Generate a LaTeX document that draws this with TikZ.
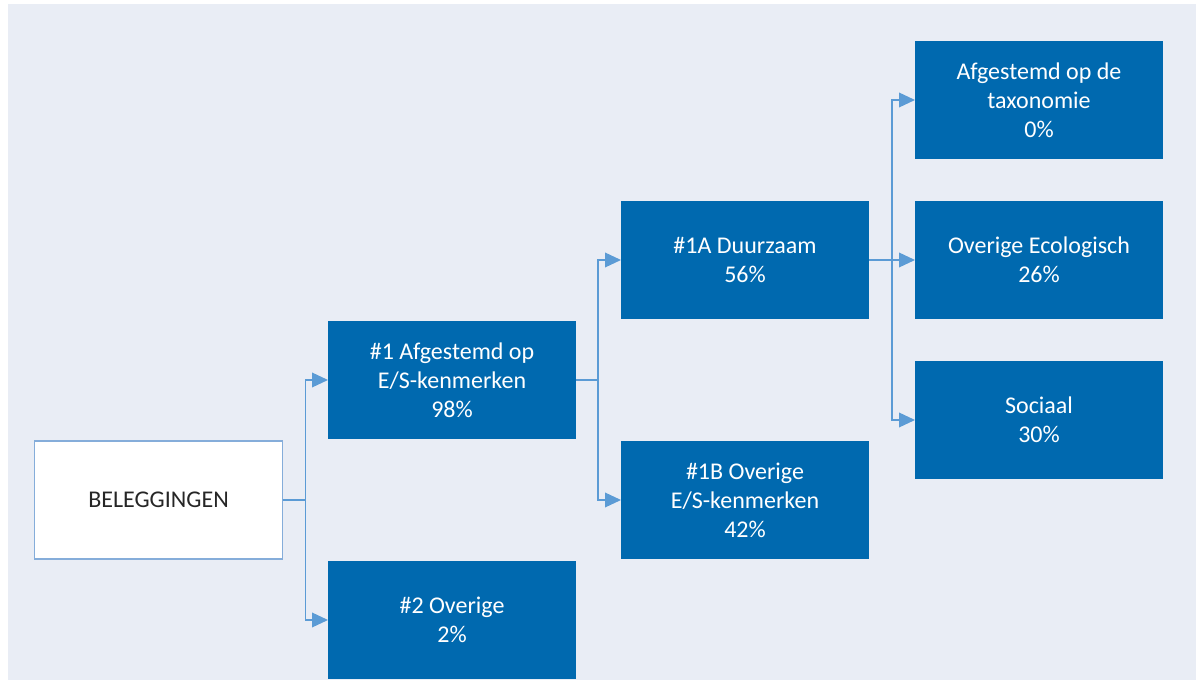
\documentclass[tikz,border=0pt]{standalone}
\usepackage{fontspec}
\setmainfont{Carlito}
\usepackage{tikz}
\usetikzlibrary{arrows.meta}
\usepackage{xcolor}

\definecolor{bgblue}{HTML}{E9EDF5}
\definecolor{boxblue}{HTML}{0069AF}
\definecolor{linkblue}{HTML}{5B9BD5}
\definecolor{rimblue}{HTML}{85ADDA}
\definecolor{textgray}{HTML}{262626}

\tikzset{
  cell/.style={rectangle,minimum width=186pt,minimum height=88.5pt,
    inner sep=0pt,outer sep=0pt,align=center,
    font=\fontsize{18}{21.75}\selectfont},
  bluecell/.style={cell,fill=boxblue,text=white},
  whitecell/.style={cell,fill=white,draw=rimblue,line width=0.9pt,text=textgray},
  link/.style={draw=linkblue,line width=1.1pt,
    -{Triangle[length=12pt,width=11pt]}}
}

\begin{document}
\begin{tikzpicture}[x=0.75pt,y=-0.75pt]
  \useasboundingbox (0,0) rectangle (1203,680);
  \fill[bgblue] (8,4) rectangle (1196,680);

  % eerste kolom
  \node[whitecell] (beleg) at (158.5,500) {BELEGGINGEN};

  % tweede kolom
  \node[bluecell] (es) at (452,380) {\#1 Afgestemd op\\E/S-kenmerken\\98\%};
  \node[bluecell] (overig) at (452,620) {\#2 Overige\\2\%};

  % derde kolom
  \node[bluecell] (duurz) at (745,260) {\#1A Duurzaam\\56\%};
  \node[bluecell] (overes) at (745,500) {\#1B Overige\\E/S-kenmerken\\42\%};

  % vierde kolom
  \node[bluecell] (taxo) at (1039,100) {Afgestemd op de\\taxonomie\\0\%};
  \node[bluecell] (ecolo) at (1039,260) {Overige Ecologisch\\26\%};
  \node[bluecell] (sociaal) at (1039,420) {Sociaal\\30\%};

  % verbindingen
  \draw[link] (beleg.east) -- ++(23,0) |- (es.west);
  \draw[link] (beleg.east) -- ++(23,0) |- (overig.west);
  \draw[link] (es.east) -- ++(22,0) |- (duurz.west);
  \draw[link] (es.east) -- ++(22,0) |- (overes.west);
  \draw[link] (duurz.east) -- ++(23,0) |- (taxo.west);
  \draw[link] (duurz.east) -- ++(23,0) |- (ecolo.west);
  \draw[link] (duurz.east) -- ++(23,0) |- (sociaal.west);
\end{tikzpicture}
\end{document}
